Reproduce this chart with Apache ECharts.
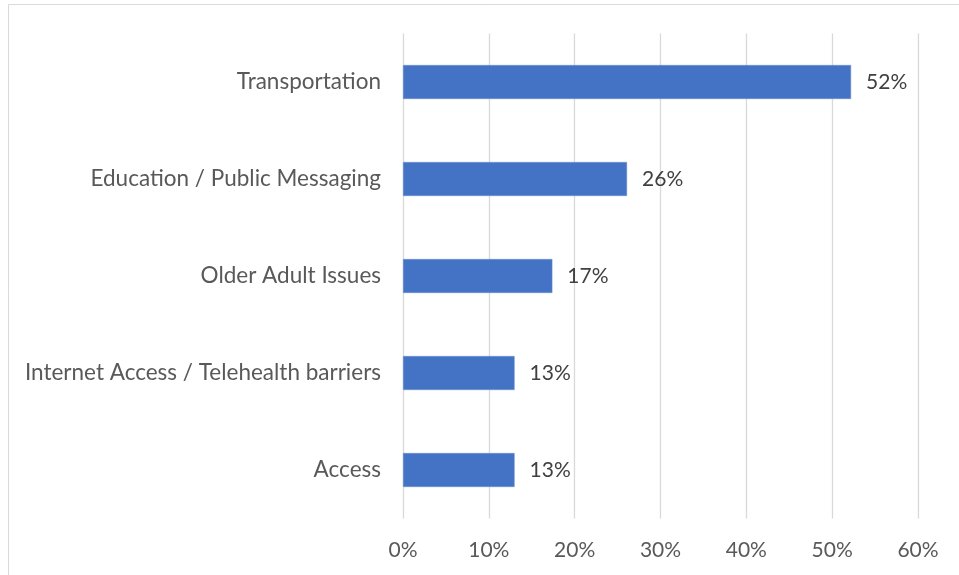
<!DOCTYPE html>
<html>
<head>
<meta charset="utf-8">
<script src="https://cdn.jsdelivr.net/npm/echarts@6/dist/echarts.min.js"></script>
<style>
  html, body { margin: 0; padding: 0; background: #fff; }
  #grafico { width: 959px; height: 575px; }
</style>
</head>
<body>
<div id="grafico"></div>
<script>
// categorias de cima para baixo
const categorias = [
  "Transportation",
  "Education / Public Messaging",
  "Older Adult Issues",
  "Internet Access / Telehealth barriers",
  "Access"
]
// percentuais
const valores = [52.2, 26.1, 17.4, 13.0, 13.0]
const rotulos = ["52%", "26%", "17%", "13%", "13%"]
const ticksX = [0, 10, 20, 30, 40, 50, 60]

const corTexto = "#595959"
const fonte = "Lato, 'Open Sans', sans-serif"

let myChart = echarts.init(document.getElementById("grafico"))

let option = {
  animation: false,
  color: ["#4472c4"],
  graphic: [{
    type: "rect",
    shape: { x: 8.5, y: 4.5, width: 1000, height: 700 },
    style: { fill: "none", stroke: "#d9d9d9", lineWidth: 1 },
    silent: true,
  }],
  grid: {
    left: 403,
    right: 41,
    top: 33.5,
    bottom: 56.5,
  },
  xAxis: {
    type: "value",
    min: ticksX[0],
    max: ticksX[ticksX.length - 1],
    interval: 10,
    axisLine: { show: false },
    axisTick: { show: false },
    splitLine: { lineStyle: { color: "#d9d9d9", width: 1.3 } },
    axisLabel: {
      color: corTexto,
      fontFamily: fonte,
      fontSize: 21,
      margin: 21,
      formatter: v => v + "%",
    },
  },
  yAxis: {
    type: "category",
    data: categorias,
    inverse: true,
    axisLine: { show: false },
    axisTick: { show: false },
    axisLabel: {
      color: corTexto,
      fontFamily: fonte,
      fontSize: 22.5,
      margin: 22,
    },
  },
  series: [{
    type: "bar",
    data: valores,
    barWidth: "35%",
    itemStyle: { borderColor: "#6a8fd4", borderWidth: 0.5 },
    label: {
      show: true,
      position: "right",
      distance: 15,
      color: "#404040",
      fontFamily: fonte,
      fontSize: 21,
      formatter: ({ dataIndex }) => rotulos[dataIndex],
    },
  }],
}

option && myChart.setOption(option)
</script>
</body>
</html>
